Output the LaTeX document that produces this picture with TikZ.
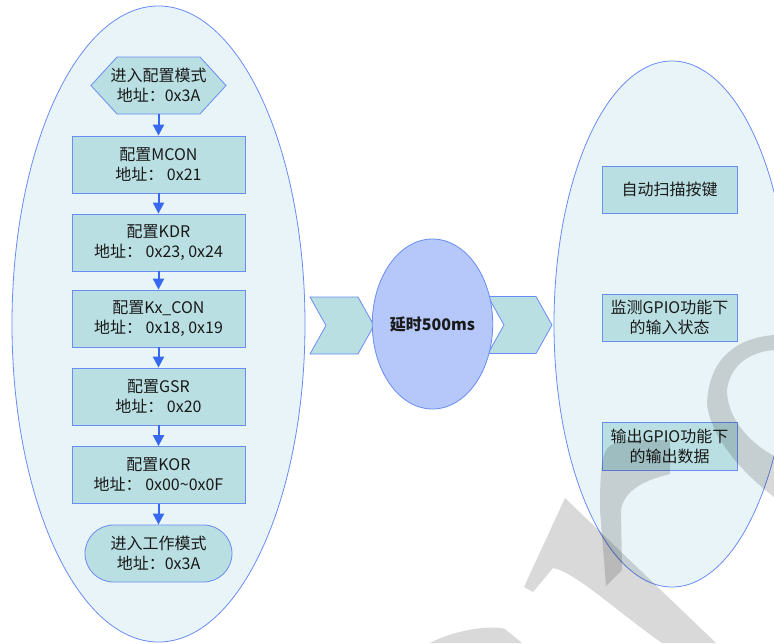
\documentclass[tikz,border=0pt]{standalone}
\usepackage{fontspec}
\setmainfont{Noto Sans CJK SC}
\usetikzlibrary{shapes.misc,shapes.geometric,arrows.meta,calc}
\definecolor{ellfill}{RGB}{232,244,247}
\definecolor{edgeblue}{RGB}{105,140,245}
\definecolor{boxfill}{RGB}{185,223,227}
\definecolor{midfill}{RGB}{182,200,250}
\definecolor{arrblue}{RGB}{55,105,240}
\definecolor{txt}{RGB}{25,25,25}
\begin{document}
\begin{tikzpicture}[x=1pt,y=-1pt,
  every node/.style={font=\fontsize{16}{20}\selectfont, text=txt, align=center, inner sep=0pt},
  bigell/.style={ellipse, draw=edgeblue, fill=ellfill, line width=0.8pt},
  midell/.style={ellipse, draw=edgeblue, fill=midfill, line width=0.8pt, minimum width=109pt, minimum height=170pt},
  box/.style={rectangle, draw=edgeblue, fill=boxfill, line width=0.8pt},
  lbox/.style={box, minimum width=173pt, minimum height=57pt},
  rbox/.style={box, minimum width=135pt, minimum height=47pt},
  termbox/.style={rounded rectangle, draw=edgeblue, fill=boxfill, line width=0.8pt, minimum width=147pt, minimum height=57pt},
  shapeline/.style={draw=edgeblue, fill=boxfill, line width=0.8pt},
  arr/.style={draw=arrblue, line width=2pt, -{Triangle[width=11pt,length=11pt]}},
  wmark/.style={fill=black, fill opacity=0.15}]
\useasboundingbox (0,0) rectangle (774,643);
% big ellipses
\node[bigell, minimum width=293pt, minimum height=636pt] (left) at (158.5,324) {};
\node[bigell, minimum width=236pt, minimum height=526pt] (right) at (672,324) {};
% hexagon
\coordinate (hexc) at (158.5,85.5);
\draw[shapeline] ($(hexc)+(-67.5,0)$) -- ($(hexc)+(-41.5,-28.5)$) -- ($(hexc)+(41.5,-28.5)$) -- ($(hexc)+(67.5,0)$) -- ($(hexc)+(41.5,28.5)$) -- ($(hexc)+(-41.5,28.5)$) -- cycle;
\node[minimum width=135pt, minimum height=57pt] (hex) at (hexc) {进入配置模式\\地址：0x3A};
% left boxes
\node[lbox] (mcon) at (158.5,164.5) {配置MCON\\地址： 0x21};
\node[lbox] (kdr) at (158.5,242.5) {配置KDR\\地址： 0x23, 0x24};
\node[lbox] (kxcon) at (158.5,318.5) {配置Kx\_CON\\地址： 0x18, 0x19};
\node[lbox] (gsr) at (158.5,396.5) {配置GSR\\地址： 0x20};
\node[lbox] (kor) at (158.5,475) {配置KOR\\地址： 0x00\textasciitilde0x0F};
\node[termbox] (work) at (158.5,553.5) {进入工作模式\\地址：0x3A};
% arrows
\draw[arr] (hex.south) -- (mcon.north);
\draw[arr] (mcon.south) -- (kdr.north);
\draw[arr] (kdr.south) -- (kxcon.north);
\draw[arr] (kxcon.south) -- (gsr.north);
\draw[arr] (gsr.south) -- (kor.north);
\draw[arr] (kor.south) -- (work.north);
% chevrons
\draw[shapeline] (310,297) -- (358,297) -- (374,325.5) -- (358,354) -- (310,354) -- (326,325.5) -- cycle;
\draw[shapeline] (488,296.5) -- (536,296.5) -- (552,325) -- (536,353.5) -- (488,353.5) -- (504,325) -- cycle;
% middle ellipse
\node[midell] (delay) at (432.5,324) {\textbf{延时500ms}};
% right boxes
\node[rbox] (r1) at (669.5,189.5) {自动扫描按键};
\node[rbox] (r2) at (669.5,317.5) {监测GPIO功能下\\的输入状态};
\node[rbox, minimum height=48pt] (r3) at (669.5,446) {输出GPIO功能下\\的输出数据};
% watermark
\fill[wmark] (565,498) -- (716,643) -- (662,643) .. controls (615,610) and (575,572) .. (553,568) -- (533,592) -- (524,587) -- cycle;
\fill[wmark] (430,643) .. controls (450,632) and (488,624) .. (505,629) -- (522,643) -- cycle;
\fill[wmark] (605,452) .. controls (610,441) and (625,439) .. (645,440) -- (670,440) -- (670,474) .. controls (645,480) and (624,490) .. (621,510) -- (622,570) -- (606,586) -- (600,510) .. controls (600,480) and (601,462) .. (605,452) -- cycle;
\fill[wmark] (774,335) .. controls (735,338) and (708,360) .. (707,405) .. controls (712,440) and (745,475) .. (774,497) -- (774,456) .. controls (745,440) and (727,415) .. (727,390) .. controls (730,365) and (750,352) .. (774,350) -- cycle;
\end{tikzpicture}
\end{document}
